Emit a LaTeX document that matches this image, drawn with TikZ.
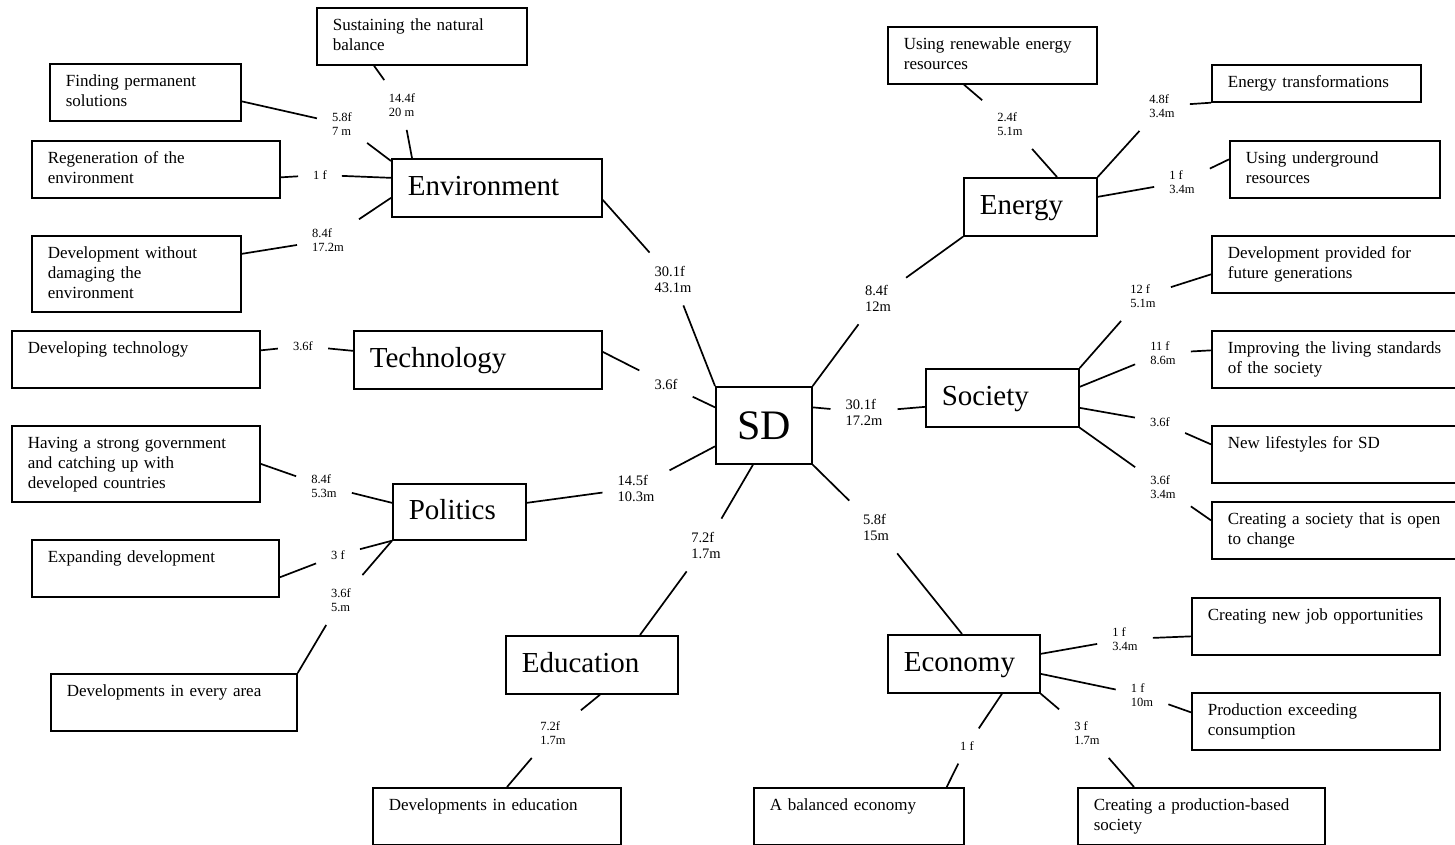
\documentclass[tikz,border=0pt]{standalone}
\usepackage{fontspec}
\setmainfont{Liberation Serif}
\usetikzlibrary{calc}
\newcommand\leaffont{\fontsize{17}{20}\selectfont}
\newcommand\catfont{\fontsize{29}{34}\selectfont}
\newcommand\sdfont{\fontsize{42}{48}\selectfont}
\newcommand\numfont{\fontsize{12.5}{14.5}\selectfont}
\newcommand\numbig{\fontsize{14.5}{16}\selectfont}
\hyphenpenalty=10000
\tikzset{
  box/.style={draw, line width=1.7pt, anchor=north west, align=left, inner xsep=16pt, inner ysep=0pt},
  leaf/.style={box, font=\leaffont, text height=23pt, text depth=34pt},
  tall/.style={text depth=53pt},
  oneline/.style={text depth=14pt},
  cat/.style={box, font=\catfont, minimum height=58pt, text height=22pt, text depth=6pt},
  core/.style={draw, line width=1.7pt, anchor=north west, font=\sdfont, minimum width=96pt, minimum height=77pt},
  num/.style={align=left, font=\numfont, inner xsep=15pt, inner ysep=13pt},
  numb/.style={num, font=\numbig},
  ln/.style={line width=1.7pt},
}

\begin{document}
\begin{tikzpicture}[x=1pt, y=-1pt]
  \fill[white] (0,0) rectangle (1455,845);
  \useasboundingbox (0,0) rectangle (1455,845);

  % centre and themes
  \node[core] (sd) at (715,386) {SD};
  \node[cat, text width=178pt] (env) at (391,158) {Environment};
  \node[cat, text width=216pt] (tech) at (353,330) {Technology};
  \node[cat, text width=101pt, minimum height=56pt] (pol) at (392,483) {Politics};
  \node[cat, text width=140pt] (edu) at (505,635) {Education};
  \node[cat, text width=120pt] (eco) at (887,634) {Economy};
  \node[cat, text width=121pt] (soc) at (925,368) {Society};
  \node[cat, text width=101pt] (ene) at (963,177) {Energy};

  % leaves
  \node[leaf, text width=178pt] (sus) at (316,7) {Sustaining the natural\\balance};
  \node[leaf, text width=159pt] (fin) at (49,63) {Finding permanent\\solutions};
  \node[leaf, text width=216pt] (reg) at (31,140) {Regeneration of the\\environment};
  \node[leaf, tall, text width=177pt] (dwd) at (31,235) {Development without\\damaging the\\environment};
  \node[leaf, text width=216pt] (dtc) at (11,330) {Developing technology};
  \node[leaf, tall, text width=216pt] (hsg) at (11,425) {Having a strong government\\and catching up with\\developed countries};
  \node[leaf, text width=215pt] (exd) at (31,539) {Expanding development};
  \node[leaf, text width=214pt] (dea) at (50,673) {Developments in every area};
  \node[leaf, text width=216pt] (ded) at (372,787) {Developments in education};
  \node[leaf, text width=178pt] (bal) at (753,787) {A balanced economy};
  \node[leaf, text width=215pt] (cpb) at (1077,787) {Creating a production-based\\society};
  \node[leaf, text width=216pt] (cnj) at (1191,597) {Creating new job opportunities};
  \node[leaf, text width=216pt] (pec) at (1191,692) {Production exceeding\\consumption};
  \node[leaf, text width=177pt] (ure) at (887,26) {Using renewable energy\\resources};
  \node[leaf, oneline, text width=177pt] (etr) at (1211,64) {Energy transformations};
  \node[leaf, text width=178pt] (ugr) at (1229,140) {Using underground\\resources};
  \node[leaf, text width=223pt] (dpf) at (1211,235) {Development provided for\\future generations};
  \node[leaf, text width=223pt] (ils) at (1211,330) {Improving the living standards\\of the society};
  \node[leaf, text width=223pt] (nls) at (1211,425) {New lifestyles for SD};
  \node[leaf, text width=223pt] (cso) at (1211,501) {Creating a society that is open\\to change};

  % figures on the links
  \node[numb] (lse) at (673,279) {30.1f\\43.1m};
  \node[numb] (lst) at (666,384) {3.6f};
  \node[numb] (lsp) at (636,488) {14.5f\\10.3m};
  \node[numb] (lsd) at (706,545) {7.2f\\1.7m};
  \node[numb] (lsc) at (876,527) {5.8f\\15m};
  \node[numb] (lss) at (864,412) {30.1f\\17.2m};
  \node[numb] (lsn) at (878,298) {8.4f\\12m};
  \node[num] (l14) at (402,105) {14.4f\\20 m};
  \node[num] (l5) at (342,124) {5.8f\\7 m};
  \node[num] (l1) at (320,175) {1 f};
  \node[num] (l8) at (328,240) {8.4f\\17.2m};
  \node[num] (lt) at (303,346) {3.6f};
  \node[num] (lh) at (324,486) {8.4f\\5.3m};
  \node[num] (le) at (338,555) {3 f};
  \node[num] (la) at (341,600) {3.6f\\5.m};
  \node[num] (led) at (553,733) {7.2f\\1.7m};
  \node[num] (lc1) at (1125,639) {1 f\\3.4m};
  \node[num] (lc2) at (1142,695) {1 f\\10m};
  \node[num] (lc3) at (1087,733) {3 f\\1.7m};
  \node[num] (lc4) at (967,746) {1 f};
  \node[num] (ls1) at (1143,296) {12 f\\5.1m};
  \node[num] (ls2) at (1163,353) {11 f\\8.6m};
  \node[num] (ls3) at (1160,422) {3.6f};
  \node[num] (ls4) at (1163,487) {3.6f\\3.4m};
  \node[num] (le1) at (1010,124) {2.4f\\5.1m};
  \node[num] (le2) at (1162,106) {4.8f\\3.4m};
  \node[num] (le3) at (1182,182) {1 f\\3.4m};

  % links to SD
  \draw[ln] ($(env.east)+(0,12)$) -- (lse);
  \draw[ln] (lse) -- (sd.north west);
  \draw[ln] ($(tech.east)+(0,-8)$) -- (lst);
  \draw[ln] (lst) -- ($(sd.west)+(0,-18)$);
  \draw[ln] ($(pol.east)+(0,-9)$) -- (lsp);
  \draw[ln] (lsp) -- ($(sd.west)+(0,21)$);
  \draw[ln] ($(sd.south west)+(38,0)$) -- (lsd);
  \draw[ln] (lsd) -- ($(edu.north west)+(135,0)$);
  \draw[ln] (sd.south east) -- (lsc);
  \draw[ln] (lsc) -- ($(eco.north west)+(75,0)$);
  \draw[ln] ($(sd.east)+(0,-18)$) -- (lss);
  \draw[ln] (lss) -- ($(soc.west)+(0,9)$);
  \draw[ln] (sd.north east) -- (lsn);
  \draw[ln] (lsn) -- (ene.south west);

  % environment
  \draw[ln] ($(sus.south west)+(58,0)$) -- (l14);
  \draw[ln] (l14) -- ($(env.north west)+(21,0)$);
  \draw[ln] ($(fin.east)+(0,9)$) -- (l5);
  \draw[ln] (l5) -- ($(env.north west)+(0,3)$);
  \draw[ln] ($(reg.east)+(0,8)$) -- (l1);
  \draw[ln] (l1) -- ($(env.west)+(0,-10)$);
  \draw[ln] ($(dwd.east)+(0,-20)$) -- (l8);
  \draw[ln] (l8) -- ($(env.west)+(0,10)$);

  % technology, politics, education
  \draw[ln] ($(dtc.east)+(0,-9)$) -- (lt);
  \draw[ln] (lt) -- ($(tech.west)+(0,-9)$);
  \draw[ln] (hsg.east) -- (lh);
  \draw[ln] (lh) -- ($(pol.west)+(0,-9)$);
  \draw[ln] ($(exd.east)+(0,9)$) -- (le);
  \draw[ln] (le) -- (pol.south west);
  \draw[ln] (dea.north east) -- (la);
  \draw[ln] (la) -- (pol.south west);
  \draw[ln] ($(edu.south west)+(95,0)$) -- (led);
  \draw[ln] (led) -- ($(ded.north west)+(135,0)$);

  % economy
  \draw[ln] ($(eco.east)+(0,-10)$) -- (lc1);
  \draw[ln] (lc1) -- ($(cnj.west)+(0,10)$);
  \draw[ln] ($(eco.east)+(0,10)$) -- (lc2);
  \draw[ln] (lc2) -- ($(pec.west)+(0,-9)$);
  \draw[ln] (eco.south east) -- (lc3);
  \draw[ln] (lc3) -- ($(cpb.north west)+(57,0)$);
  \draw[ln] ($(eco.south west)+(115,0)$) -- (lc4);
  \draw[ln] (lc4) -- ($(bal.north east)+(-18,0)$);

  % society
  \draw[ln] (soc.north east) -- (ls1);
  \draw[ln] (ls1) -- ($(dpf.west)+(0,10)$);
  \draw[ln] ($(soc.east)+(0,-11)$) -- (ls2);
  \draw[ln] (ls2) -- ($(ils.west)+(0,-9)$);
  \draw[ln] ($(soc.east)+(0,10)$) -- (ls3);
  \draw[ln] (ls3) -- ($(nls.west)+(0,-10)$);
  \draw[ln] (soc.south east) -- (ls4);
  \draw[ln] (ls4) -- ($(cso.west)+(0,-10)$);

  % energy
  \draw[ln] ($(ure.south west)+(77,0)$) -- (le1);
  \draw[ln] (le1) -- ($(ene.north west)+(94,0)$);
  \draw[ln] (ene.north east) -- (le2);
  \draw[ln] (le2) -- (etr.south west);
  \draw[ln] ($(ene.east)+(0,-10)$) -- (le3);
  \draw[ln] (le3) -- ($(ugr.west)+(0,-10)$);
\end{tikzpicture}
\end{document}
